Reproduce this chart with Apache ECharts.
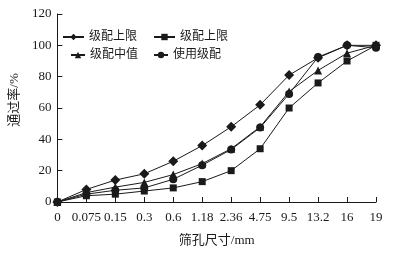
<!DOCTYPE html>
<html><head><meta charset="utf-8">
<script src="https://cdn.jsdelivr.net/npm/echarts@6/dist/echarts.min.js"></script>
<style>html,body{margin:0;padding:0;background:#fff}#c{width:396px;height:254px}</style>
</head><body><div id="c"></div>
<script>
var categories = ['0','0.075','0.15','0.3','0.6','1.18','2.36','4.75','9.5','13.2','16','19'];
var upperLimit = [0, 8, 14, 18, 26, 36, 48, 62, 81, 92, 100, 100];
var lowerLimit = [0, 4, 5, 7, 9, 13, 20, 34, 60, 76, 90, 100];
var midValue   = [0, 6, 9.5, 12.5, 17.5, 24.5, 34, 48, 70.5, 84, 95, 100];
var usedGrad   = [0, 5, 7.5, 9, 14.5, 23.5, 33.5, 47.5, 69, 92.5, 100, 98.5];
var yTicks = [0, 20, 40, 60, 80, 100, 120];

var serif = '"Liberation Serif","Noto Sans CJK SC",serif';
var ink = '#1a1a1a';
function mk(name, data, symbol, size) {
  return {name: name, type: 'line', data: data, symbol: symbol, symbolSize: size,
    showAllSymbol: true, lineStyle: {color: ink, width: 1}, itemStyle: {color: ink}, animation: false};
}
var chart = echarts.init(document.getElementById('c'), null, {renderer: 'canvas'});
chart.setOption({
  animation: false,
  grid: {left: 51, right: 20, top: 14, bottom: 52},
  legend: [
    {left: 57, top: 26, itemWidth: 21, itemHeight: 8, itemGap: 16, data: ['级配上限', '级配下限'],
     textStyle: {fontFamily: serif, fontSize: 12, color: ink},
     formatter: function (n) { return n === '级配下限' ? '级配上限' : n; }},
    {left: 65, top: 44, itemWidth: 14, itemHeight: 8, itemGap: 15, data: ['级配中值', '使用级配'],
     textStyle: {fontFamily: serif, fontSize: 12, color: ink}}
  ],
  xAxis: {type: 'category', data: categories, boundaryGap: false,
    name: '筛孔尺寸/mm', nameLocation: 'middle', nameGap: 32,
    nameTextStyle: {fontFamily: serif, fontSize: 13, color: ink},
    axisLine: {lineStyle: {color: ink, width: 1}},
    axisTick: {inside: true, length: 5, lineStyle: {color: ink}},
    axisLabel: {fontFamily: serif, fontSize: 13, color: ink, margin: 9, interval: 0},
    splitLine: {show: false}},
  yAxis: {type: 'value', min: yTicks[0], max: yTicks[yTicks.length - 1], interval: 20,
    name: '通过率/%', nameLocation: 'middle', nameGap: 30,
    nameTextStyle: {fontFamily: serif, fontSize: 13, color: ink, padding: [0, 0, 0, 16]},
    axisLine: {show: true, lineStyle: {color: ink, width: 1}},
    axisTick: {show: true, inside: true, length: 5, lineStyle: {color: ink}},
    axisLabel: {fontFamily: serif, fontSize: 13, color: ink, margin: 6},
    splitLine: {show: false}},
  series: [
    mk('级配上限', upperLimit, 'diamond', 10),
    mk('级配下限', lowerLimit, 'rect', 7),
    mk('级配中值', midValue, 'triangle', 8),
    mk('使用级配', usedGrad, 'circle', 8)
  ]
});
</script></body></html>
